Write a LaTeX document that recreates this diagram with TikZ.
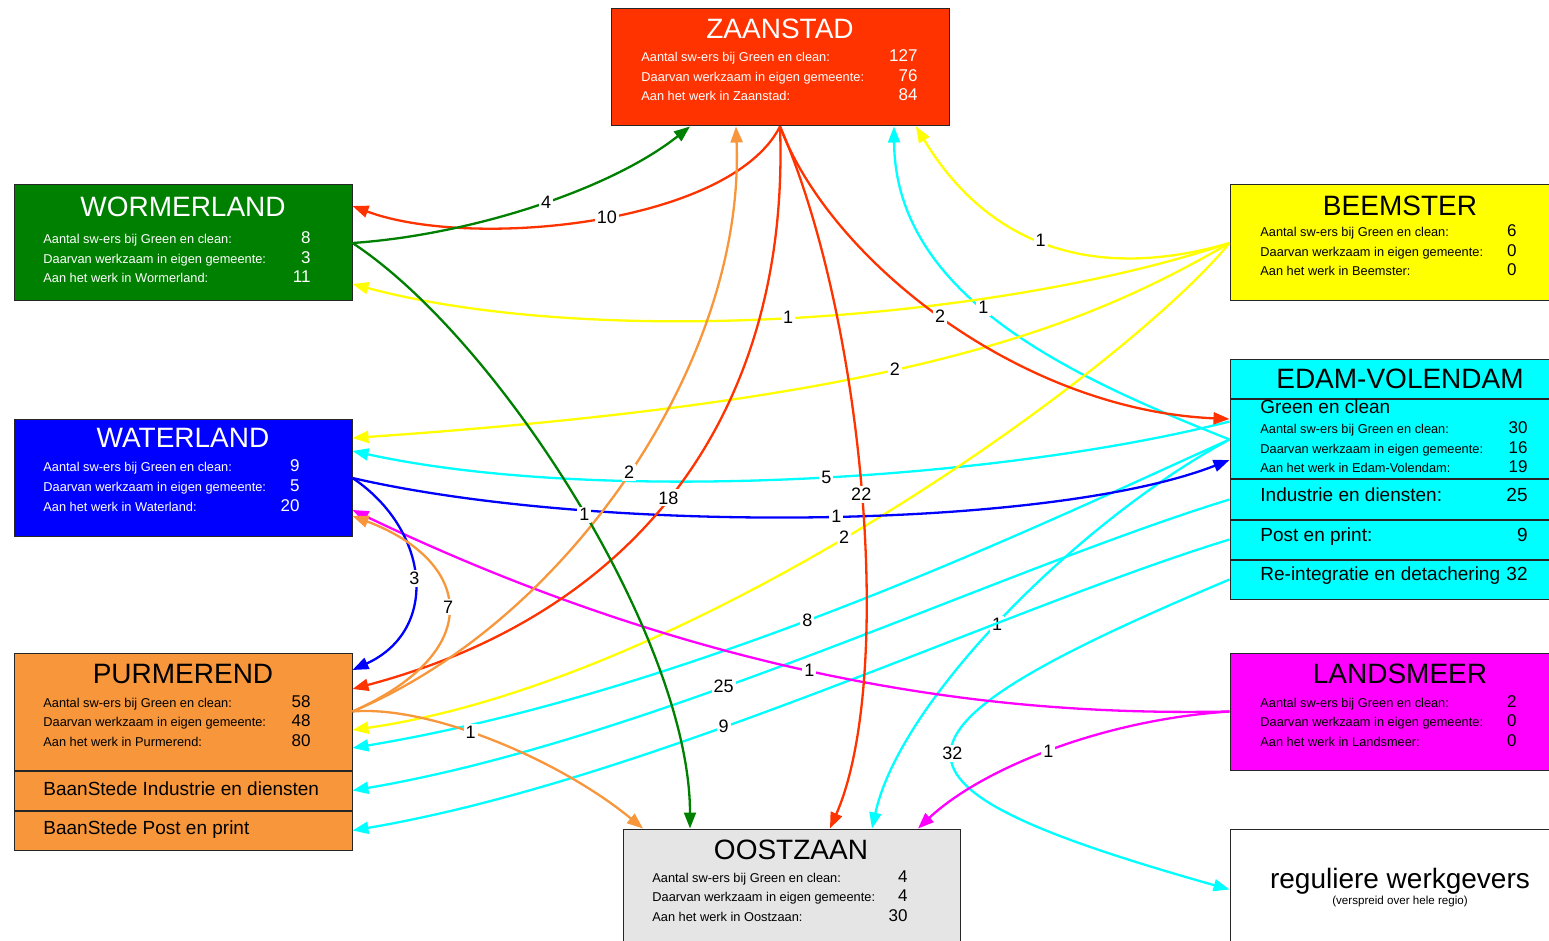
\documentclass[tikz,border=0pt]{standalone}
\usepackage{fontspec}
\setmainfont{Liberation Sans}
\usetikzlibrary{arrows.meta,positioning,calc}
\definecolor{zaancol}{HTML}{FF3300}
\definecolor{wormcol}{HTML}{008000}
\definecolor{watcol}{HTML}{0000FF}
\definecolor{purmcol}{HTML}{F7963A}
\definecolor{oostcol}{HTML}{E5E5E5}
\definecolor{beemcol}{HTML}{FFFF00}
\definecolor{edamcol}{HTML}{00FFFF}
\definecolor{landcol}{HTML}{FF00FF}
\tikzset{%
  box/.style={draw=black!85, line width=0.5pt, inner sep=0pt},
  title/.style={font=\fontsize{14}{16}\selectfont, anchor=base, inner sep=0pt},
  stat/.style={font=\fontsize{6.4}{7.7}\selectfont, anchor=base west, inner sep=0pt},
  statnum/.style={font=\fontsize{8.5}{10}\selectfont, anchor=base east, inner sep=0pt},
  rowtext/.style={font=\fontsize{9.5}{11}\selectfont, anchor=base west, inner sep=0pt},
  flow/.style={line width=1.15pt, -{Triangle[length=8pt,width=6pt]}},
  count/.style={fill=white, text=black, inner sep=1pt, font=\fontsize{9}{10}\selectfont}
}
\newcommand{\statrows}[8]{%
  \node[stat] (#1a) at (#2,#4) {Aantal sw-ers bij Green en clean:};
  \node[stat] (#1b) at (#2,#4+19.5) {Daarvan werkzaam in eigen gemeente:};
  \node[stat] (#1c) at (#2,#4+39) {Aan het werk in #5:};
  \node[statnum] (#1x) at (#3,#4) {#6};
  \node[statnum] (#1y) at (#3,#4+19.5) {#7};
  \node[statnum] (#1z) at (#3,#4+39) {#8};
}

\begin{document}
\begin{tikzpicture}[x=0.5pt,y=-0.5pt]
  % \draw[help lines, gray] (0,0) grid[step=50] (1549,941);
  \useasboundingbox (0,0) rectangle (1549,941);

  % gemeenten
  \node[box, fill=zaancol, minimum width=169pt, minimum height=58.5pt] (zaan) at (780,67.5) {};
  \node[box, fill=wormcol, minimum width=169pt, minimum height=58pt] (wormer) at (183,243) {};
  \node[box, fill=watcol, minimum width=169pt, minimum height=58pt] (wat) at (183,478) {};
  \node[box, fill=purmcol, minimum width=169pt, minimum height=58.5pt] (purm) at (183,711.5) {};
  \node[box, fill=purmcol, minimum width=169pt, minimum height=19.5pt, below=0pt of purm] (purmA) {};
  \node[box, fill=purmcol, minimum width=169pt, minimum height=19.5pt, below=0pt of purmA] (purmB) {};
  \node[box, fill=oostcol, minimum width=168.5pt, minimum height=60.5pt] (oost) at (791.5,889.5) {};
  \node[box, fill=beemcol, minimum width=165pt, minimum height=58pt] (beem) at (1395,243) {};
  \node[box, fill=edamcol, minimum width=165pt, minimum height=19.5pt] (edam) at (1395,379.5) {};
  \node[box, fill=edamcol, minimum width=165pt, minimum height=39.5pt, below=0pt of edam] (gc) {};
  \node[box, fill=edamcol, minimum width=165pt, minimum height=19.5pt, below=0pt of gc] (ind) {};
  \node[box, fill=edamcol, minimum width=165pt, minimum height=19.5pt, below=0pt of ind] (post) {};
  \node[box, fill=edamcol, minimum width=165pt, minimum height=19.5pt, below=0pt of post] (reint) {};
  \node[box, fill=landcol, minimum width=165pt, minimum height=58.5pt] (land) at (1395,711.5) {};
  \node[box, fill=white, minimum width=165pt, minimum height=60.5pt] (reg) at (1395,889.5) {};

  \begin{scope}[text=white]
    \node[title] (zaanT) at (780,39) {ZAANSTAD};
    \statrows{zaan}{641}{918}{62}{Zaanstad}{127}{76}{84}
    \node[title] (wormerT) at (183,217) {WORMERLAND};
    \statrows{wormer}{43}{311}{244}{Wormerland}{8}{3}{11}
    \node[title] (watT) at (183,448) {WATERLAND};
    \statrows{wat}{43}{300}{472}{Waterland}{9}{5}{20}
  \end{scope}
  \node[title] (purmT) at (183,683) {PURMEREND};
  \statrows{purm}{43}{311}{707}{Purmerend}{58}{48}{80}
  \node[rowtext] (purmAT) at (43,795) {BaanStede Industrie en diensten};
  \node[rowtext] (purmBT) at (43,834) {BaanStede Post en print};
  \node[title] (oostT) at (791,859) {OOSTZAAN};
  \statrows{oost}{652}{908}{882}{Oostzaan}{4}{4}{30}
  \node[title] (beemT) at (1400,216) {BEEMSTER};
  \statrows{beem}{1260}{1517}{237}{Beemster}{6}{0}{0}
  \node[title] (edamT) at (1400,389) {EDAM-VOLENDAM};
  \node[rowtext] (gcT) at (1260,414) {Green en clean};
  \statrows{gc}{1260}{1528}{434}{Edam-Volendam}{30}{16}{19}
  \node[rowtext] (indT) at (1260,502) {Industrie en diensten:};
  \node[rowtext, anchor=base east] (indN) at (1528,502) {25};
  \node[rowtext] (postT) at (1260,541) {Post en print:};
  \node[rowtext, anchor=base east] (postN) at (1528,541) {9};
  \node[rowtext] (reintT) at (1260,580) {Re-integratie en detachering};
  \node[rowtext, anchor=base east] (reintN) at (1528,580) {32};
  \node[title] (landT) at (1400,683) {LANDSMEER};
  \statrows{land}{1260}{1517}{707}{Landsmeer}{2}{0}{0}
  \node[title] (regT) at (1400,888) {reguliere werkgevers};
  \node[font=\fontsize{5.8}{7}\selectfont, anchor=base, inner sep=0pt] (regS) at (1400,904) {(verspreid over hele regio)};

  % stromen
  \draw[flow, edamcol] ($(gc.west)+(0,-18)$) .. controls (1000,480) and (600,505) .. ($(wat.east)+(0,-27)$) node[count, pos=0.47] (cEWa) {5};
  \draw[flow, edamcol] (gc.west) .. controls (1080,380) and (895,300) .. ($(zaan.south)+(114,0)$) node[count, pos=0.56] (cEZ) {1};
  \draw[flow, edamcol] (gc.west) .. controls (1050,520) and (700,690) .. ($(purm.east)+(0,36.5)$) node[count, pos=0.55] (cEP) {8};
  \draw[flow, edamcol] (gc.west) .. controls (1080,520) and (900,700) .. ($(oost.north)+(80.5,0)$) node[count, pos=0.52] (cEO) {1};
  \draw[flow, edamcol] (ind.west) .. controls (1000,570) and (650,740) .. (purmA.east) node[count, pos=0.6] (cIP) {25};
  \draw[flow, edamcol] (post.west) .. controls (1000,610) and (650,780) .. (purmB.east) node[count, pos=0.6] (cPP) {9};
  \draw[flow, edamcol] (reint.west) .. controls (860,735) and (860,785) .. (reg.west) node[count, pos=0.5] (cRR) {32};

  \draw[flow, beemcol] (beem.west) .. controls (1120,275) and (1000,265) .. ($(zaan.south)+(136,0)$) node[count, pos=0.57] (cBZ) {1};
  \draw[flow, beemcol] (beem.west) .. controls (1000,320) and (600,350) .. ($(wormer.east)+(0,41)$) node[count, pos=0.51] (cBW) {1};
  \draw[flow, beemcol] (beem.west) .. controls (1080,330) and (900,400) .. ($(wat.east)+(0,-40)$) node[count, pos=0.555] (cBWa) {2};
  \draw[flow, beemcol] (beem.west) .. controls (1130,365) and (700,680) .. ($(purm.east)+(0,18.5)$) node[count, pos=0.54] (cBP) {2};

  \draw[flow, landcol] (land.west) .. controls (1050,715) and (750,700) .. ($(wat.east)+(0,32)$) node[count, pos=0.57] (cLWa) {1};
  \draw[flow, landcol] (land.west) .. controls (1100,720) and (980,770) .. ($(oost.north)+(126.5,0)$) node[count, pos=0.5] (cLO) {1};

  \draw[flow, watcol] (wat.east) .. controls (600,535) and (1050,530) .. ($(gc.west)+(0,20.5)$) node[count, pos=0.52] (cWaE) {1};
  \draw[flow, watcol] (wat.east) .. controls (430,530) and (440,630) .. ($(purm.east)+(0,-41.5)$) node[count, pos=0.5] (cWaP) {3};

  \draw[flow, zaancol] (zaan.south) .. controls (730,225) and (470,250) .. ($(wormer.east)+(0,-37)$) node[count, pos=0.47] (cZW) {10};
  \draw[flow, zaancol] (zaan.south) .. controls (790,400) and (650,610) .. ($(purm.east)+(0,-22.5)$) node[count, pos=0.53] (cZP) {18};
  \draw[flow, zaancol] (zaan.south) .. controls (865,320) and (895,680) .. ($(oost.north)+(38.5,0)$) node[count, pos=0.5] (cZO) {22};
  \draw[flow, zaancol] (zaan.south) .. controls (830,260) and (1020,410) .. ($(gc.west)+(0,-20.5)$) node[count, pos=0.49] (cZE) {2};

  \draw[flow, purmcol] (purm.east) .. controls (570,620) and (745,360) .. ($(zaan.south)+(-44,0)$) node[count, pos=0.5] (cPZ) {2};
  \draw[flow, purmcol] (purm.east) .. controls (490,650) and (470,560) .. ($(wat.east)+(0,38)$) node[count, pos=0.5] (cPWa) {7};
  \draw[flow, purmcol] (purm.east) .. controls (430,705) and (560,760) .. ($(oost.north)+(-148.5,0)$) node[count, pos=0.42] (cPO) {1};

  \draw[flow, wormcol] (wormer.east) .. controls (470,235) and (610,190) .. ($(zaan.south)+(-90,0)$) node[count, pos=0.53] (cWZ) {4};
  \draw[flow, wormcol] (wormer.east) .. controls (500,340) and (690,640) .. ($(oost.north)+(-101.5,0)$) node[count, pos=0.52] (cWO) {1};
\end{tikzpicture}
\end{document}
